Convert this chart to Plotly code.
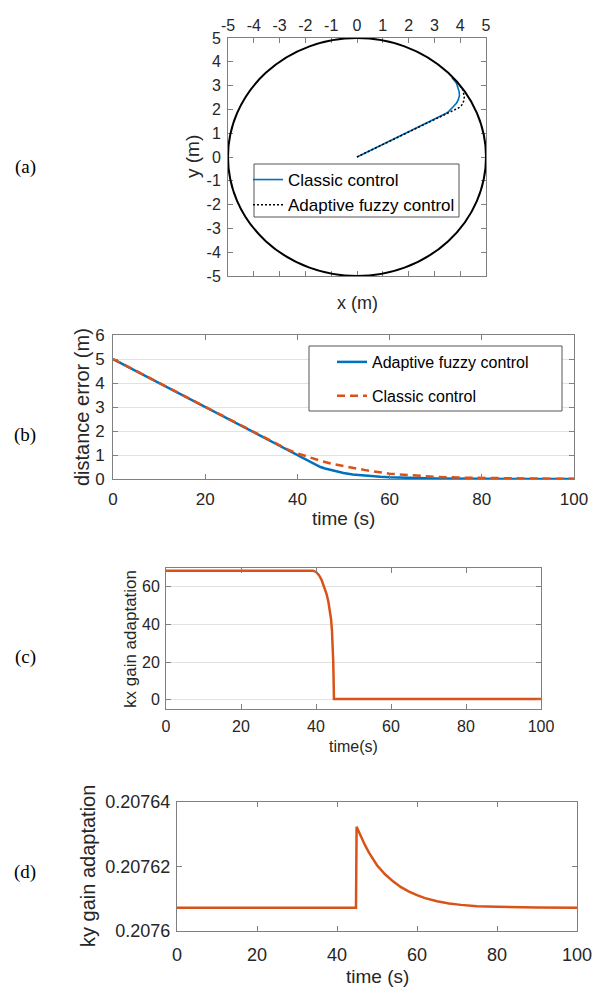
import plotly.graph_objects as go

W, H = 601, 987
SANS = "Liberation Sans, Arial, Helvetica, sans-serif"
SERIF = "Liberation Serif, Times New Roman, serif"
BLUE = "#0072BD"
ORANGE = "#D95319"
AXC = "#808080"
TXT = "#262626"
GRID = "#e2e2e2"

# ---------------- data ----------------
# (a) trajectories in the plane
a_classic_x = [0, 0.8, 1.6, 2.4, 3.22, 3.5, 3.73, 3.86, 3.93, 3.97, 3.96, 3.92, 3.86, 3.77, 3.68]
a_classic_y = [0, 0.42, 0.84, 1.26, 1.69, 1.86, 2.11, 2.27, 2.42, 2.58, 2.74, 2.92, 3.09, 3.22, 3.33]
a_fuzzy_x = [0, 0.8, 1.6, 2.4, 3.22, 3.5, 3.8, 3.95, 4.06, 4.13, 4.16, 4.14, 4.1, 4.04, 3.99]
a_fuzzy_y = [0, 0.42, 0.84, 1.26, 1.69, 1.83, 1.97, 2.07, 2.18, 2.33, 2.53, 2.68, 2.82, 2.92, 2.99]
circle_radius = 5
a_ticks = [-5, -4, -3, -2, -1, 0, 1, 2, 3, 4, 5]
a_tick_text = ["-5", "-4", "-3", "-2", "-1", "0", "1", "2", "3", "4", "5"]

# (b) distance error
b_t_fuzzy = [0, 10, 20, 30, 40, 42, 44, 45, 46, 48, 50, 52, 55, 58, 60, 65, 70, 80, 90, 100]
b_fuzzy = [5.0, 4.0, 3.0, 2.0, 1.0, 0.8, 0.6, 0.5, 0.44, 0.33, 0.25, 0.19, 0.13, 0.09, 0.07, 0.04, 0.02, 0.006, 0.002, 0.0]
b_t_classic = [0, 10, 20, 30, 35, 38, 40, 42, 45, 48, 50, 55, 60, 65, 70, 75, 80, 90, 100]
b_classic = [5.0, 4.0, 3.0, 2.0, 1.5, 1.22, 1.07, 0.94, 0.76, 0.61, 0.53, 0.36, 0.22, 0.14, 0.09, 0.06, 0.04, 0.02, 0.01]

# (c) kx gain adaptation
c_t = [0, 39.2, 40, 40.8, 41.5, 42.2, 42.8, 43.3, 43.7, 44.0, 44.25, 44.45, 44.6, 44.7, 44.78, 100]
c_kx = [68.6, 68.6, 67.9, 66.2, 63.6, 60.2, 56.3, 52.0, 47.5, 43.0, 37.0, 29.0, 20.0, 10.0, 0.3, 0.3]

# (d) ky gain adaptation
d_t = [0, 44.75, 44.9, 46, 47, 48, 49, 50, 52, 54, 56, 58, 60, 62, 65, 68, 71, 75, 80, 85, 90, 100]
d_ky = [0.2076072, 0.2076072, 0.2076323, 0.2076292, 0.2076266, 0.2076243, 0.2076222, 0.2076204,
        0.2076176, 0.2076154, 0.2076136, 0.2076122, 0.2076111, 0.2076102, 0.2076092, 0.2076085,
        0.2076081, 0.2076077, 0.2076075, 0.20760735, 0.2076073, 0.2076072]
d_ticks = [0.2076, 0.20762, 0.20764]
d_tick_text = ["0.2076", "0.20762", "0.20764"]


def px(x):
    return x / W


def py(y):
    return 1 - y / H


def base_axis(size, **kw):
    d = dict(showline=True, linecolor=AXC, linewidth=1, mirror="ticks", ticks="inside",
             ticklen=5, tickcolor=AXC, tickwidth=1, zeroline=False, showgrid=False,
             tickfont=dict(family=SANS, size=size, color=TXT))
    d.update(kw)
    return d


fig = go.Figure()

# (a)
fig.add_trace(go.Scatter(x=a_classic_x, y=a_classic_y, mode="lines", name="Classic control",
                         line=dict(color=BLUE, width=1.6), xaxis="x", yaxis="y",
                         legend="legend", legendgroup="a1"))
fig.add_trace(go.Scatter(x=a_fuzzy_x, y=a_fuzzy_y, mode="lines", name="Adaptive fuzzy control",
                         line=dict(color="#000000", width=1.5, dash="2px,2px"), xaxis="x", yaxis="y",
                         legend="legend", legendgroup="a2"))
# (b)
fig.add_trace(go.Scatter(x=b_t_fuzzy, y=b_fuzzy, mode="lines", name="Adaptive fuzzy control",
                         line=dict(color=BLUE, width=2.5), xaxis="x2", yaxis="y2",
                         legend="legend2", legendgroup="b1"))
fig.add_trace(go.Scatter(x=b_t_classic, y=b_classic, mode="lines", name="Classic control",
                         line=dict(color=ORANGE, width=2.5, dash="8px,5px"), xaxis="x2", yaxis="y2",
                         legend="legend2", legendgroup="b2"))
# (c)
fig.add_trace(go.Scatter(x=c_t, y=c_kx, mode="lines", showlegend=False,
                         line=dict(color=ORANGE, width=2.5), xaxis="x3", yaxis="y3"))
# (d)
fig.add_trace(go.Scatter(x=d_t, y=d_ky, mode="lines", showlegend=False,
                         line=dict(color=ORANGE, width=2.5), xaxis="x4", yaxis="y4"))

shapes = [
    dict(type="circle", xref="x", yref="y", x0=-circle_radius, x1=circle_radius,
         y0=-circle_radius, y1=circle_radius, line=dict(color="#000000", width=2), layer="above"),
    # legend frames
    dict(type="rect", xref="paper", yref="paper", x0=px(254), x1=px(459), y0=py(217), y1=py(164),
         line=dict(color="#555555", width=1), fillcolor="white", layer="above"),
    dict(type="rect", xref="paper", yref="paper", x0=px(309), x1=px(562), y0=py(411), y1=py(346),
         line=dict(color="#555555", width=1), fillcolor="white", layer="above"),
]

ann = []


def add_text(text, x, y, size, angle=0, family=SANS, color=TXT):
    ann.append(dict(text=text, x=px(x), y=py(y), xref="paper", yref="paper", showarrow=False,
                    xanchor="center", yanchor="middle", textangle=angle,
                    font=dict(family=family, size=size, color=color)))


add_text("(a)", 25, 167, 19, family=SERIF, color="#000000")
add_text("(b)", 25, 435, 19, family=SERIF, color="#000000")
add_text("(c)", 25, 657, 19, family=SERIF, color="#000000")
add_text("(d)", 25, 872, 19, family=SERIF, color="#000000")
add_text("y (m)", 193, 157, 19, angle=-90)
add_text("x (m)", 357, 303, 18)
add_text("distance error (m)", 82, 407, 20, angle=-90)
add_text("time (s)", 343, 518, 19)
add_text("kx gain adaptation", 130, 639, 17, angle=-90)
add_text("time(s)", 353, 746, 16)
add_text("ky gain adaptation", 88, 866, 20, angle=-90)
add_text("time (s)", 377, 976, 19)

fig.update_layout(
    width=W, height=H, autosize=False,
    margin=dict(l=0, r=0, t=0, b=0),
    paper_bgcolor="white", plot_bgcolor="white",
    template="none",
    shapes=shapes, annotations=ann,
    xaxis=base_axis(16, domain=[px(228), px(486)], range=[-5, 5], side="top",
                    tickvals=a_ticks, ticktext=a_tick_text, anchor="y", ticklabelstandoff=0),
    yaxis=base_axis(16, domain=[py(276), py(38)], range=[-5, 5],
                    tickvals=a_ticks, ticktext=a_tick_text, anchor="x", ticklabelstandoff=3),
    xaxis2=base_axis(17, domain=[px(113), px(574)], range=[0, 100], dtick=20, anchor="y2",
                     ticklabelstandoff=5),
    yaxis2=base_axis(17, domain=[py(479), py(335)], range=[0, 6], dtick=1, anchor="x2",
                     showgrid=True, gridcolor=GRID, ticklabelstandoff=4),
    xaxis3=base_axis(16, domain=[px(166), px(541)], range=[0, 100], dtick=20, anchor="y3",
                     ticklabelstandoff=3),
    yaxis3=base_axis(16, domain=[py(709), py(568)], range=[-5, 70], tickvals=[0, 20, 40, 60],
                     anchor="x3", showgrid=True, gridcolor=GRID, ticklabelstandoff=2),
    xaxis4=base_axis(18, domain=[px(177), px(577)], range=[0, 100], dtick=20, anchor="y4",
                     ticklabelstandoff=7),
    yaxis4=base_axis(18, domain=[py(931), py(802)], range=[0.2076, 0.20764],
                     tickvals=d_ticks, ticktext=d_tick_text, anchor="x4", ticklabelstandoff=2),
    legend=dict(x=px(248), y=py(162), xanchor="left", yanchor="top", bgcolor="rgba(0,0,0,0)",
                borderwidth=0, font=dict(family=SANS, size=17, color="#000000"),
                traceorder="grouped", tracegroupgap=0),
    legend2=dict(x=px(332), y=py(345), xanchor="left", yanchor="top", bgcolor="rgba(0,0,0,0)",
                 borderwidth=0, font=dict(family=SANS, size=16, color="#000000"),
                 traceorder="grouped", tracegroupgap=10),
    showlegend=True,
)

fig.write_html("out.html", config={"displayModeBar": False},
               post_script="document.body.style.margin='0';document.body.style.padding='0';")
